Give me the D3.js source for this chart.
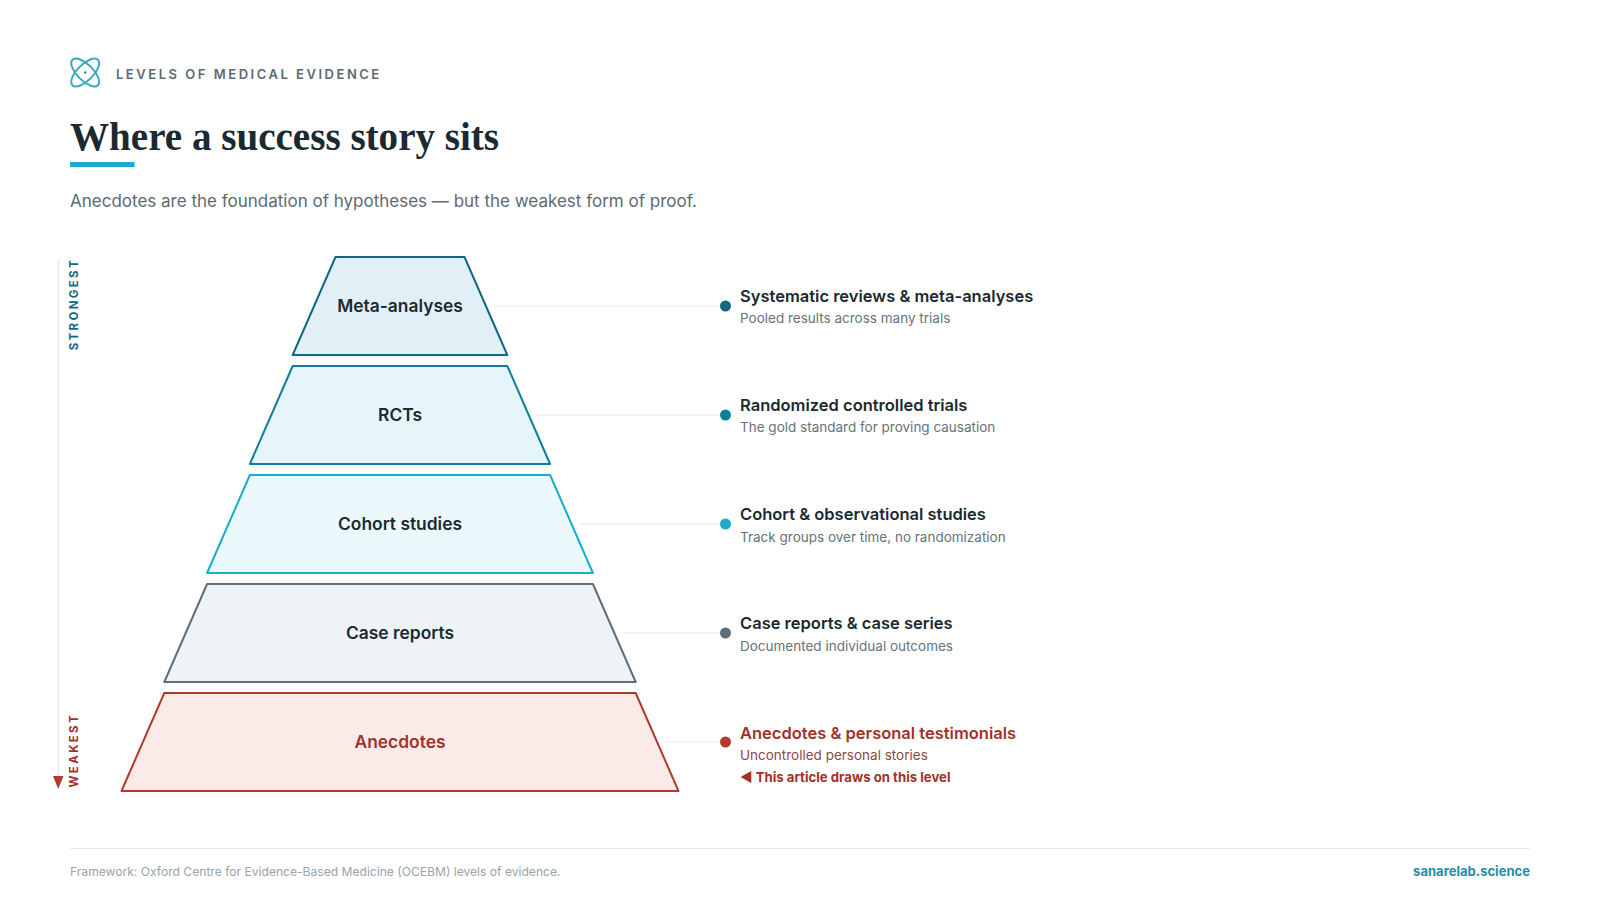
<!DOCTYPE html>
<html>
<head>
<meta charset="utf-8">
<title>Levels of medical evidence</title>
<script src="https://cdn.jsdelivr.net/npm/d3@7"></script>
<style>
  body { margin: 0; background: #fff; }
  text { font-family: Inter, sans-serif; }
</style>
</head>
<body>
<div class="canvas"></div>
<script>
const levels = ['Meta-analyses', 'RCTs', 'Cohort studies', 'Case reports', 'Anecdotes'];
const details = [
  'Systematic reviews & meta-analyses',
  'Randomized controlled trials',
  'Cohort & observational studies',
  'Case reports & case series',
  'Anecdotes & personal testimonials'
];
const notes = [
  'Pooled results across many trials',
  'The gold standard for proving causation',
  'Track groups over time, no randomization',
  'Documented individual outcomes',
  'Uncontrolled personal stories'
];
const strokes = ['#12697f', '#0e7f99', '#18adca', '#5c6f7b', '#b03a2e'];
const fills = ['#e1f0f6', '#e5f5fa', '#ebf9fc', '#eef3f5', '#fbebe8'];
const dots = ['#12697f', '#0e7f99', '#18adca', '#5c6f7b', '#b03a2e'];

const svg = d3.select('.canvas').append('svg')
  .attr('width', 1600)
  .attr('height', 900);

const ink = '#1b2a31';
const red = '#a0322a';

// header
const logo = svg.append('g').attr('transform', 'translate(85.2, 72.5)');
[45, -45].forEach(angle => {
  logo.append('ellipse')
    .attr('rx', 18)
    .attr('ry', 8)
    .attr('transform', `rotate(${angle})`)
    .attr('fill', 'none')
    .attr('stroke', '#3aa9b9')
    .attr('stroke-width', 2);
});
logo.append('circle').attr('r', 1.2).attr('fill', '#2f7f90');

svg.append('text')
  .attr('x', 116)
  .attr('y', 79)
  .attr('font-size', 13)
  .attr('font-weight', 600)
  .attr('letter-spacing', 2.52)
  .attr('fill', '#5c6a72')
  .text('LEVELS OF MEDICAL EVIDENCE');

svg.append('text')
  .attr('x', 70)
  .attr('y', 150)
  .attr('font-size', 39.1)
  .attr('font-weight', 700)
  .style('font-family', '"Liberation Serif", serif')
  .attr('fill', ink)
  .text('Where a success story sits');

svg.append('rect')
  .attr('x', 70)
  .attr('y', 162)
  .attr('width', 64.5)
  .attr('height', 5)
  .attr('fill', '#18adca');

svg.append('text')
  .attr('x', 70)
  .attr('y', 206.5)
  .attr('font-size', 17)
  .attr('fill', '#5c6a72')
  .text('Anecdotes are the foundation of hypotheses \u2014 but the weakest form of proof.');

// pyramid scales
const y = d3.scaleBand()
  .domain(levels)
  .range([257, 791])
  .paddingInner(0.101);

// half width of the pyramid, per step down from the tip
const halfWidth = d3.scaleLinear()
  .domain([0, levels.length])
  .range([64.5, 278.5]);

const centerX = 400;
const dotX = 725.5;
const textX = 740;

const trapezoid = (d, i) => {
  const top = y(d);
  const bottom = top + y.bandwidth();
  return d3.line()([
    [centerX - halfWidth(i), top],
    [centerX + halfWidth(i), top],
    [centerX + halfWidth(i + 1), bottom],
    [centerX - halfWidth(i + 1), bottom]
  ]) + 'Z';
};

const midY = d => y(d) + y.bandwidth() / 2;

const rows = svg.selectAll('g.level').data(levels).enter().append('g').attr('class', 'level');

rows.append('line')
  .attr('x1', (d, i) => centerX + halfWidth(i + 0.5) + 8)
  .attr('x2', dotX)
  .attr('y1', midY)
  .attr('y2', midY)
  .attr('stroke', '#e6e9eb')
  .attr('stroke-width', 1.2);

rows.append('path')
  .attr('d', trapezoid)
  .attr('fill', (d, i) => fills[i])
  .attr('stroke', (d, i) => strokes[i])
  .attr('stroke-width', 2)
  .attr('stroke-linejoin', 'round');

rows.append('text')
  .attr('x', centerX)
  .attr('y', d => midY(d) + 6)
  .attr('text-anchor', 'middle')
  .attr('font-size', 17.4)
  .attr('font-weight', 600)
  .attr('fill', (d, i) => i === 4 ? red : ink)
  .text(d => d);

rows.append('circle')
  .attr('cx', dotX)
  .attr('cy', midY)
  .attr('r', 5.5)
  .attr('fill', (d, i) => dots[i]);

rows.append('text')
  .attr('x', textX)
  .attr('y', (d, i) => midY(d) - (i === 4 ? 3.5 : 4))
  .attr('font-size', 16.5)
  .attr('font-weight', 600)
  .attr('fill', (d, i) => i === 4 ? red : ink)
  .text((d, i) => details[i]);

rows.append('text')
  .attr('x', textX)
  .attr('y', d => midY(d) + 17.5)
  .attr('font-size', 13.5)
  .attr('fill', (d, i) => i === 4 ? '#8c4a44' : '#66737b')
  .text((d, i) => notes[i]);

// callout under the last row
const lastY = midY(levels[4]);
svg.append('text')
  .attr('x', textX)
  .attr('y', lastY + 39.5)
  .attr('font-size', 13.2)
  .attr('font-weight', 700)
  .attr('fill', red)
  .text('\u25C0 This article draws on this level');

// strongest to weakest axis
svg.append('line')
  .attr('x1', 58.5)
  .attr('x2', 58.5)
  .attr('y1', 260)
  .attr('y2', 778)
  .attr('stroke', '#e3e6e8')
  .attr('stroke-width', 1.5);

svg.append('path')
  .attr('d', d3.line()([[53, 776], [63.5, 776], [58.25, 789]]) + 'Z')
  .attr('fill', '#b03a2e');

svg.append('text')
  .attr('transform', 'translate(78, 258) rotate(-90)')
  .attr('text-anchor', 'end')
  .attr('font-size', 11.5)
  .attr('font-weight', 700)
  .attr('letter-spacing', 2.35)
  .attr('fill', '#12697f')
  .text('STRONGEST');

svg.append('text')
  .attr('transform', 'translate(78, 713) rotate(-90)')
  .attr('text-anchor', 'end')
  .attr('font-size', 11.5)
  .attr('font-weight', 700)
  .attr('letter-spacing', 2.35)
  .attr('fill', '#a0322a')
  .text('WEAKEST');

// footer
svg.append('line')
  .attr('x1', 70)
  .attr('x2', 1530)
  .attr('y1', 848.5)
  .attr('y2', 848.5)
  .attr('stroke', '#e8eaec');

svg.append('text')
  .attr('x', 70)
  .attr('y', 876)
  .attr('font-size', 12.1)
  .attr('fill', '#9aa4aa')
  .text('Framework: Oxford Centre for Evidence-Based Medicine (OCEBM) levels of evidence.');

svg.append('text')
  .attr('x', 1530)
  .attr('y', 876)
  .attr('text-anchor', 'end')
  .attr('font-size', 13.05)
  .attr('font-weight', 700)
  .attr('fill', '#2b8ca6')
  .text('sanarelab.science');
</script>
</body>
</html>
